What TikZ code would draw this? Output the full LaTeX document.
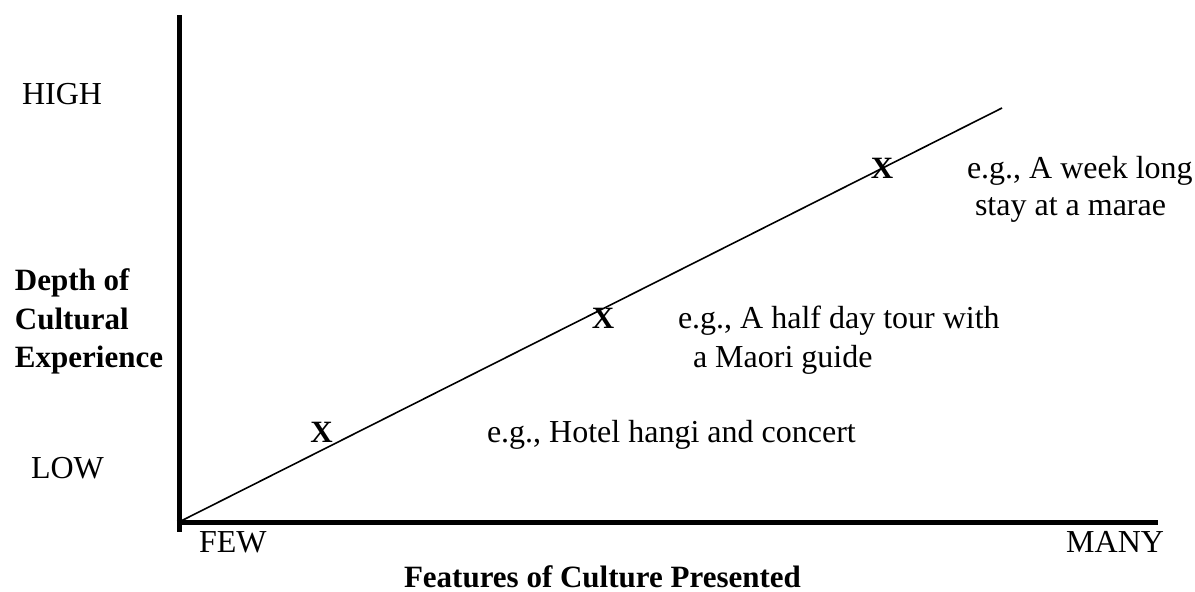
\documentclass[tikz,border=0pt]{standalone}
\usepackage{fontspec}
\setmainfont{Liberation Serif}
\begin{document}
\begin{tikzpicture}[x=1pt,y=-1pt,
  lbl/.style={anchor=base west,inner sep=0pt,outer sep=0pt,font=\fontsize{32}{38}\selectfont},
  blbl/.style={lbl,font=\fontsize{31}{37}\selectfont\bfseries},
  xmark/.style={anchor=base,inner sep=0pt,outer sep=0pt,font=\fontsize{31}{37}\selectfont\bfseries},
  axisline/.style={line width=5pt},
  trend/.style={line width=1.6pt}]
\useasboundingbox (0,0) rectangle (1195,592);
% axes
\coordinate (ytop) at (179,15);
\coordinate (ybot) at (179,532);
\coordinate (xstart) at (176.5,522.5);
\coordinate (xend) at (1158,522.5);
\coordinate (lstart) at (181,521);
\coordinate (lend) at (1002,108);
\draw[axisline] (ytop) -- (ybot);
\draw[axisline] (xstart) -- (xend);
\draw[trend] (lstart) -- (lend);
% axis labels
\node[lbl] (high) at (22,104) {HIGH};
\node[lbl] (low) at (31,478) {LOW};
\node[blbl] (d1) at (15,290) {Depth of};
\node[blbl] (d2) at (15,329) {Cultural};
\node[blbl] (d3) at (15,367) {Experience};
\node[lbl] (few) at (199,552) {FEW};
\node[lbl,anchor=base east] (many) at (1164,552) {MANY};
\node[blbl] (feat) at (404,587) {Features of Culture Presented};
% markers
\node[xmark] (x1) at (321.5,442) {X};
\node[xmark] (x2) at (603,328) {X};
\node[xmark] (x3) at (882,178) {X};
% examples
\node[lbl] (e1) at (487,442) {e.g., Hotel hangi and concert};
\node[lbl] (e2a) at (678,328) {e.g., A half day tour with};
\node[lbl] (e2b) at (693,367) {a Maori guide};
\node[lbl] (e3a) at (967,178) {e.g., A week long};
\node[lbl] (e3b) at (975,215.5) {stay at a marae};
\end{tikzpicture}
\end{document}
